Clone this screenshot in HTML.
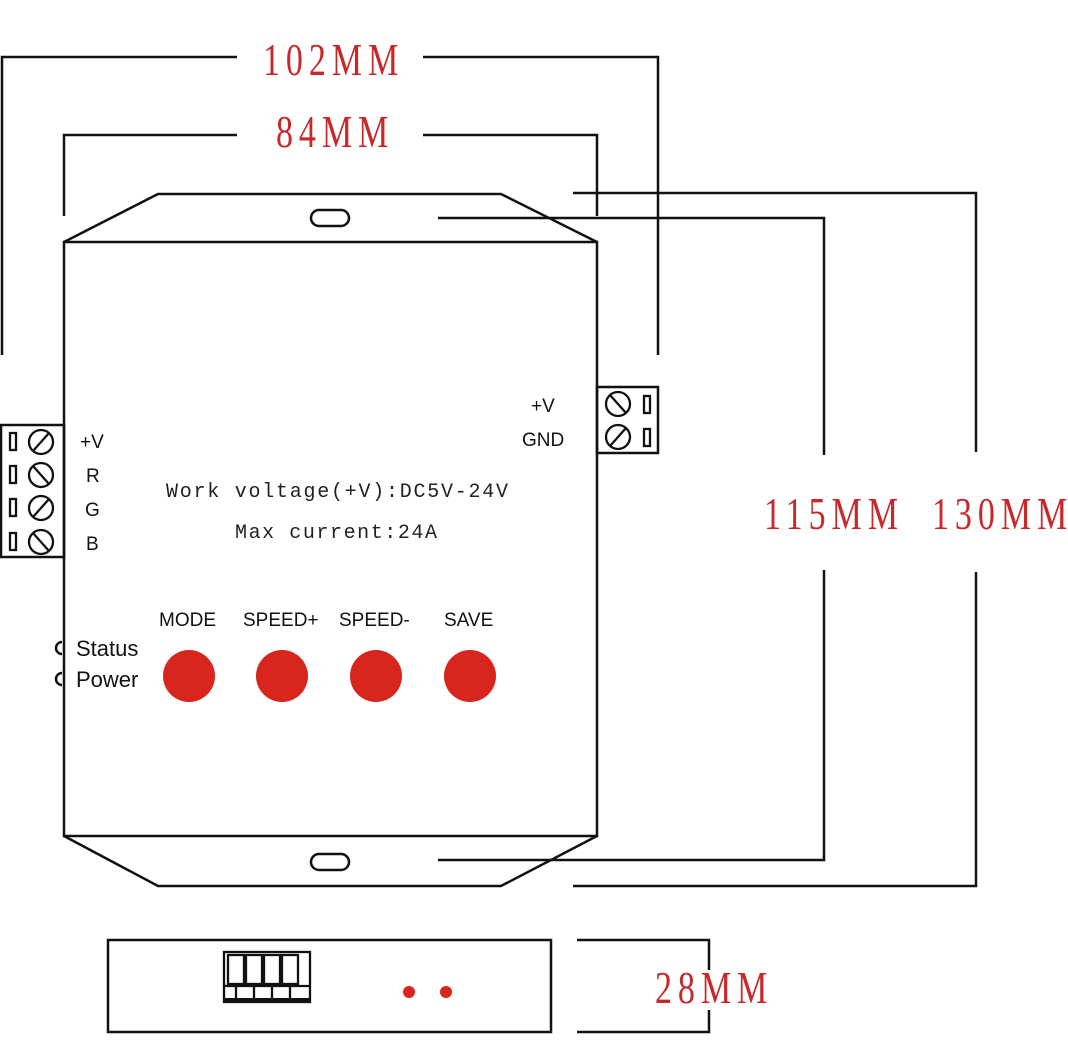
<!DOCTYPE html>
<html><head><meta charset="utf-8"><style>html,body{margin:0;padding:0;background:#fff}</style></head>
<body>
<svg width="1068" height="1035" viewBox="0 0 1068 1035" xmlns="http://www.w3.org/2000/svg">
<g fill="none" stroke="#111" stroke-width="2.5">
<polyline points="2,355 2,57 237,57"/>
<polyline points="423,57 658,57 658,355"/>
<polyline points="64,216 64,135 237,135"/>
<polyline points="423,135 597,135 597,216"/>
<polyline points="573,193 976,193 976,452"/>
<polyline points="976,572 976,886 573,886"/>
<polyline points="438,218 824,218 824,455"/>
<polyline points="824,570 824,860 438,860"/>
<polyline points="577,940 709,940 709,970"/>
<polyline points="709,1010 709,1032 577,1032"/>
<rect x="64" y="242" width="533" height="594"/>
<polyline points="64,242 158,194 501,194 597,242"/>
<polyline points="64,836 158,886 501,886 597,836"/>
<rect x="311" y="210" width="38" height="16" rx="8"/>
<rect x="311" y="854" width="38" height="16" rx="8"/>
<rect x="1" y="425" width="63" height="132"/>
<rect x="597" y="387" width="61" height="66"/>
<rect x="108" y="940" width="443" height="92"/>
<path d="M62,642 A6,6 0 0 0 62,654"/>
<path d="M62,673 A6,6 0 0 0 62,685"/>
</g>
<g fill="none" stroke="#111" stroke-width="2.3">
<circle cx="41" cy="442" r="12"/><line x1="33" y1="451" x2="49" y2="433"/>
<circle cx="41" cy="475" r="12"/><line x1="33" y1="466" x2="49" y2="484"/>
<circle cx="41" cy="508" r="12"/><line x1="33" y1="517" x2="49" y2="499"/>
<circle cx="41" cy="542" r="12"/><line x1="33" y1="533" x2="49" y2="551"/>
<rect x="10" y="433" width="6" height="17"/><rect x="10" y="466" width="6" height="17"/>
<rect x="10" y="499" width="6" height="17"/><rect x="10" y="533" width="6" height="17"/>
<circle cx="618" cy="404" r="12"/><line x1="610" y1="395" x2="626" y2="413"/>
<circle cx="618" cy="437" r="12"/><line x1="610" y1="446" x2="626" y2="428"/>
<rect x="644" y="396" width="6" height="17"/><rect x="644" y="429" width="6" height="17"/>
<rect x="224" y="952" width="86" height="50"/>
<rect x="228" y="955" width="16" height="29"/><rect x="246" y="955" width="16" height="29"/>
<rect x="264" y="955" width="16" height="29"/><rect x="282" y="955" width="16" height="29"/>
<line x1="224" y1="986" x2="310" y2="986"/>
<line x1="236" y1="986" x2="236" y2="1000"/><line x1="254" y1="986" x2="254" y2="1000"/>
<line x1="272" y1="986" x2="272" y2="1000"/><line x1="290" y1="986" x2="290" y2="1000"/>
</g>
<rect x="224" y="998" width="86" height="5" fill="#111"/>
<g fill="#d8251d">
<circle cx="189" cy="676" r="26"/><circle cx="282" cy="676" r="26"/>
<circle cx="376" cy="676" r="26"/><circle cx="470" cy="676" r="26"/>
<circle cx="409" cy="992" r="6"/><circle cx="446" cy="992" r="6"/>
</g>
<g font-family="'Liberation Serif',serif" fill="#c8282a" font-size="46" letter-spacing="8">
<text transform="translate(263,75) scale(0.74,1)">102MM</text>
<text transform="translate(276,147) scale(0.74,1)">84MM</text>
<text transform="translate(764,529) scale(0.74,1)">115MM</text>
<text transform="translate(932,529) scale(0.74,1)">130MM</text>
<text transform="translate(655,1003) scale(0.74,1)">28MM</text>
</g>
<g font-family="'Liberation Mono',monospace" fill="#222" font-size="20">
<text x="166" y="497" textLength="342">Work voltage(+V):DC5V-24V</text>
<text x="235" y="538" textLength="202">Max current:24A</text>
</g>
<g font-family="'Liberation Sans',sans-serif" fill="#111" font-size="19">
<text x="80" y="448">+V</text><text x="86" y="482">R</text>
<text x="85" y="516">G</text><text x="86" y="550">B</text>
<text x="531" y="412">+V</text><text x="522" y="446">GND</text>
<text x="159" y="626">MODE</text><text x="243" y="626">SPEED+</text>
<text x="339" y="626">SPEED-</text><text x="444" y="626">SAVE</text>
<text x="76" y="656" font-size="22">Status</text><text x="76" y="687" font-size="22">Power</text>
</g>
</svg>
</body></html>
